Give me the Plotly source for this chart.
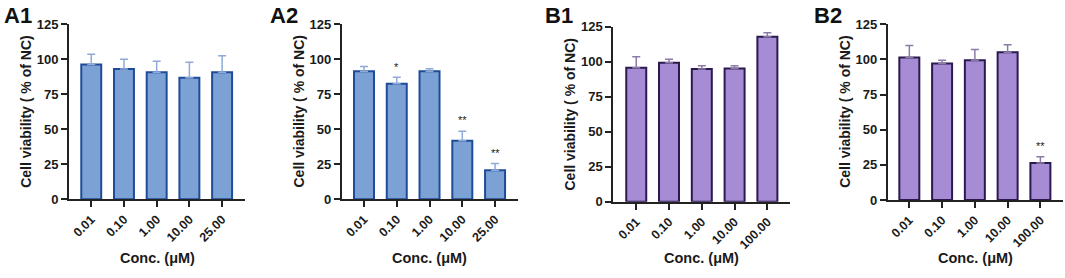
import plotly.graph_objects as go

# ---------------- data ----------------
cats_A = ["0.01", "0.10", "1.00", "10.00", "25.00"]
cats_B = ["0.01", "0.10", "1.00", "10.00", "100.00"]

A1_mean = [96.2, 93.1, 90.7, 86.9, 90.7]
A1_err = [7.4, 6.9, 7.9, 11.0, 11.9]
A1_sig = ["", "", "", "", ""]

A2_mean = [91.4, 82.6, 91.4, 41.9, 20.7]
A2_err = [3.4, 4.5, 1.9, 6.7, 4.8]
A2_sig = ["", "*", "", "**", "**"]

B1_mean = [95.7, 99.3, 94.8, 95.2, 117.9]
B1_err = [7.9, 2.4, 2.3, 1.9, 2.8]
B1_sig = ["", "", "", "", ""]

B2_mean = [101.4, 97.2, 99.5, 105.2, 26.3]
B2_err = [8.6, 2.3, 7.6, 5.2, 4.5]
B2_sig = ["", "", "", "", "**"]

panel_names = ["A1", "A2", "B1", "B2"]
y_ticks = [0, 25, 50, 75, 100, 125]
y_title = "Cell viability ( % of NC)"
x_title = "Conc. (μM)"

W, H = 1065, 278
FONT = "Liberation Sans, Arial, sans-serif"
TXT = "#1a1a1a"

blue = dict(fill="#7ba1d5", line="#1f4c99", err="#8eaad8")
purple = dict(fill="#a68bd5", line="#2a1a4f", err="#8c7ba8")

panels = [
    dict(name="A1", cats=cats_A, mean=A1_mean, err=A1_err, sig=A1_sig, col=blue,
         x0=69, x1=245, y0=199.3, y1=24.3, r0=-0.68, r1=4.70, lx=2),
    dict(name="A2", cats=cats_A, mean=A2_mean, err=A2_err, sig=A2_sig, col=blue,
         x0=341.7, x1=518, y0=199.3, y1=24.3, r0=-0.68, r1=4.70, lx=268),
    dict(name="B1", cats=cats_B, mean=B1_mean, err=B1_err, sig=B1_sig, col=purple,
         x0=613.3, x1=790, y0=201.7, y1=26.7, r0=-0.70, r1=4.69, lx=543),
    dict(name="B2", cats=cats_B, mean=B2_mean, err=B2_err, sig=B2_sig, col=purple,
         x0=887.7, x1=1063, y0=200, y1=24.3, r0=-0.66, r1=4.69, lx=812),
]

fig = go.Figure()
layout = dict(
    width=W, height=H,
    margin=dict(l=0, r=0, t=0, b=0, autoexpand=False),
    paper_bgcolor="white", plot_bgcolor="white",
    showlegend=False,
    font=dict(family=FONT, color=TXT),
)
annotations = []

for i, p in enumerate(panels):
    k = "" if i == 0 else str(i + 1)
    xa, ya = "x" + k, "y" + k
    fig.add_trace(go.Bar(
        x=list(range(len(p["cats"]))), y=p["mean"],
        xaxis=xa, yaxis=ya,
        width=0.61,
        marker=dict(color=p["col"]["fill"], line=dict(color=p["col"]["line"], width=2)),
        error_y=dict(type="data", symmetric=False, array=p["err"],
                     arrayminus=[0] * len(p["err"]),
                     color=p["col"]["err"], thickness=1.5, width=4),
        hoverinfo="skip",
    ))
    layout["xaxis" + k] = dict(
        domain=[p["x0"] / W, p["x1"] / W],
        anchor=ya, automargin=False,
        range=[p["r0"], p["r1"]],
        tickmode="array", tickvals=list(range(len(p["cats"]))), ticktext=p["cats"],
        tickangle=-45,
        ticks="outside", ticklen=6, tickwidth=1.6, tickcolor="#222",
        showline=True, linecolor="#222", linewidth=1.8,
        showgrid=False, zeroline=False,
        tickfont=dict(family=FONT, size=12.5, color=TXT, weight="bold"),
        fixedrange=True,
    )
    layout["yaxis" + k] = dict(
        domain=[1 - p["y0"] / H, 1 - p["y1"] / H],
        anchor=xa, automargin=False,
        range=[0, 125],
        tickmode="array", tickvals=y_ticks,
        ticks="outside", ticklen=6, tickwidth=1.6, tickcolor="#222",
        showline=True, linecolor="#222", linewidth=1.8,
        showgrid=False, zeroline=False,
        tickfont=dict(family=FONT, size=13, color=TXT, weight="bold"),
        fixedrange=True,
    )
    for j, s in enumerate(p["sig"]):
        if s:
            annotations.append(dict(
                x=j, y=p["mean"][j] + p["err"][j] + 2.0, xref=xa, yref=ya,
                text=s, showarrow=False, yanchor="bottom",
                font=dict(family=FONT, size=11, color=TXT),
            ))
    # y axis title
    annotations.append(dict(
        x=(p["x0"] - 43) / W, y=1 - (p["y0"] + p["y1"]) / 2 / H,
        xref="paper", yref="paper", xanchor="center", yanchor="middle",
        textangle=-90, showarrow=False, text="<b>" + y_title + "</b>",
        font=dict(family=FONT, size=14, color=TXT),
    ))
    # x axis title
    annotations.append(dict(
        x=(p["x0"] + p["x1"]) / 2 / W, y=1 - 258 / H,
        xref="paper", yref="paper", xanchor="center", yanchor="middle",
        showarrow=False, text="<b>" + x_title + "</b>",
        font=dict(family=FONT, size=14.5, color=TXT),
    ))
    # panel label
    annotations.append(dict(
        x=p["lx"] / W, y=1 - 1 / H, xref="paper", yref="paper",
        xanchor="left", yanchor="top", showarrow=False,
        text="<b>" + panel_names[i] + "</b>",
        font=dict(family=FONT, size=22, color="#111"),
    ))

layout["annotations"] = annotations
fig.update_layout(**layout)
fig.write_html("out.html", config={"displayModeBar": False})

# remove the browser's default page margin so the figure sits at (0, 0)
with open("out.html", "r", encoding="utf-8") as f:
    html = f.read()
html = html.replace("<head>", "<head><style>html,body{margin:0;padding:0;overflow:hidden}</style>", 1)
with open("out.html", "w", encoding="utf-8") as f:
    f.write(html)
